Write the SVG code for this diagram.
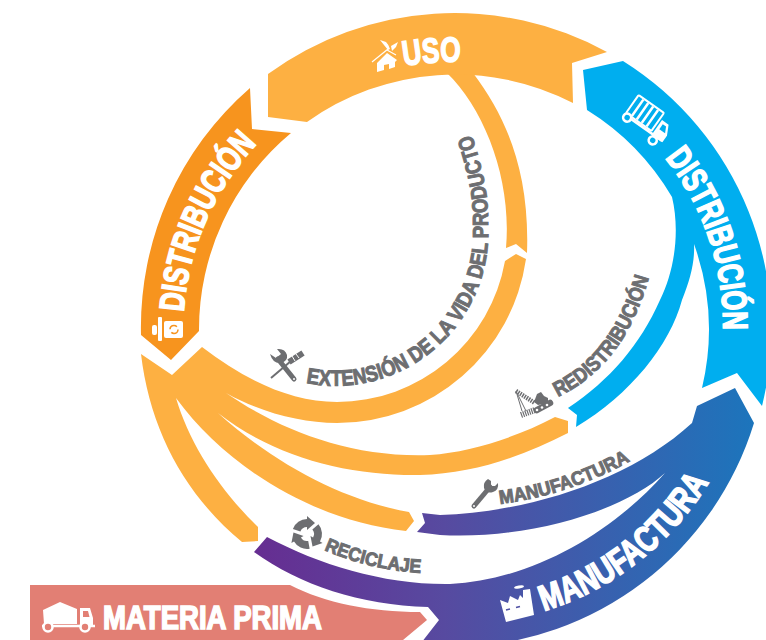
<svg xmlns="http://www.w3.org/2000/svg" width="766" height="640" viewBox="0 0 766 640">
<style>
.w{fill:#fff;font-family:"Liberation Sans",sans-serif;font-weight:700;stroke:#fff;stroke-width:1.6}
.g{fill:#6d6e71;font-family:"Liberation Sans",sans-serif;font-weight:700;stroke:#6d6e71;stroke-width:1}
.o{fill:#fdb042}
.ig{fill:#6d6e71}
.il{fill:none;stroke:#6d6e71}
</style>
<defs>
<linearGradient id="mf" gradientUnits="userSpaceOnUse" x1="254" y1="0" x2="754" y2="0">
<stop offset="0" stop-color="#662d91"/><stop offset=".38" stop-color="#574aa0"/><stop offset="1" stop-color="#1c75bc"/>
</linearGradient>
<path id="t1" d="M183.6,312A272,272 0 0 1 258,143"/>
<path id="t2" d="M404,66A268,268 0 0 1 461,62"/>
<path id="t3" d="M665,158A268,268 0 0 1 723,331"/>
<path id="t4" d="M544,611A295,295 0 0 0 709,482"/>
<path id="t5" d="M306,383A153,153 0 0 0 488,225C489,195 482,165 470,130"/>
<path id="t6" d="M558,397Q630,362 652,265"/>
<path id="t7" d="M500,504Q570,495 632,460"/>
<path id="t8" d="M324,550Q370,570 422,573"/>
<path id="rec" d="M-6.6,-2.4L-14.1,-5.1A15,15 0 0 1 0,-15L0,-18L8,-11L0,-4L0,-7A7,7 0 0 0 -6.6,-2.4Z"/>
</defs>
<g id="connectors">
<path class="o" d="M473,73C505,115 530,170 527,253L516,244L506,248C512,180 485,110 447,73Z"/>
<path class="o" d="M202,347L172,375L141,354C150,430 185,495 242,542L258,541L258,527C220,490 190,445 176,398C225,465 310,520 406,531L414,521L409,512C340,500 270,460 218,413C275,458 350,476 420,475C475,474 525,455 568,433L568,421L555,417C515,438 470,452 430,455C350,458 280,430 226,393C260,412 300,423 337,423A191,191 0 0 0 526,259L516,254L505,261A171,171 0 0 1 337,402C290,402 245,380 202,347Z"/>
</g>
<g id="uso">
<path class="o" d="M268,74A317,317 0 0 1 607,52L572,63L573,103A256,256 0 0 0 307,122L268,117Z"/>
<path fill="#fff" d="M377,63L387,53L397,60L395,62L395,67L389,69L389,64L384,65L384,70L377,72ZM388,50L380,40L386,42Q389,45 390,49ZM392,51L391,46L398,42L396,47Z"/>
<path stroke="#fff" stroke-width="1.2" d="M372,62L388,49M387,50L396,55"/>
<text class="w" font-size="35"><textPath href="#t2" textLength="57" lengthAdjust="spacingAndGlyphs">USO</textPath></text>
</g>
<g id="distribucion-izq">
<path fill="#f7941e" d="M250,88L252,129L291,133A256,256 0 0 0 199,331L171,360L141,335A317,317 0 0 1 250,88Z"/>
<rect x="164" y="321" width="19" height="17" rx="2" fill="#fff"/>
<rect x="158" y="317" width="4" height="24" rx="1" fill="#fff"/>
<rect x="152" y="325" width="5" height="10" rx="2" fill="#fff"/>
<circle cx="174" cy="329.500" r="4" fill="none" stroke="#f7941e" stroke-width="1.6" stroke-dasharray="9 3.500"/>
<text class="w" font-size="35"><textPath href="#t1" textLength="187" lengthAdjust="spacingAndGlyphs">DISTRIBUCIÓN</textPath></text>
</g>
<g id="distribucion-der">
<path fill="#00aeef" d="M623,61L583,70L587,110A254,254 0 0 1 672,197C680,230 675,270 660,300C640,345 610,380 568,408L577,415L576,427C630,395 670,345 682,300C690,280 695,262 694,244A254,254 0 0 1 702,388L737,373L762,406A317,317 0 0 0 623,61Z"/>
<g transform="translate(645,113) rotate(35)">
<rect x="-15.500" y="-11" width="31" height="22" rx="1" fill="none" stroke="#fff" stroke-width="2"/>
<path stroke="#fff" stroke-width="2.500" d="M-9,-10V10M-3,-10V10M3,-10V10M9,-10V10"/>
<path fill="#fff" d="M18,-4H26L31,6V14H18Z"/>
<path fill="#00aeef" d="M21,-1H25L28,5H21Z"/>
<path stroke="#fff" stroke-width="2.500" d="M-15,13H30"/>
<circle cx="-12" cy="14" r="4" fill="#00aeef" stroke="#fff" stroke-width="2.600"/>
<circle cx="22" cy="18" r="4" fill="#00aeef" stroke="#fff" stroke-width="2.600"/>
</g>
<text class="w" font-size="35"><textPath href="#t3" textLength="185" lengthAdjust="spacingAndGlyphs">DISTRIBUCIÓN</textPath></text>
</g>
<g id="manufactura">
<path fill="url(#mf)" d="M254,552L267,537C320,565 385,585 450,584C530,580 610,535 665,473C625,510 530,540 440,535L417,532L425,523L422,513L440,515C530,512 630,480 692,423L697,406L735,388L754,423A317,317 0 0 1 460,647L418,647L439,620L428,607C360,605 300,585 254,552Z"/>
<path fill="#fff" d="M500,600L508,603L510,596L518,600L520,595L523,598L523,590L530,589L534,615L506,622Z"/>
<ellipse cx="519" cy="587" rx="5" ry="1.500" fill="#fff" transform="rotate(-10 519 587)"/>
<path stroke="#4f50a3" stroke-width="1.600" d="M506,610L510,609M516,607.500L520,606.500"/>
<text class="w" font-size="36"><textPath href="#t4" textLength="214" lengthAdjust="spacingAndGlyphs">MANUFACTURA</textPath></text>
</g>
<g id="materia-prima">
<path fill="#e27f74" d="M30,585L290,585C325,603 370,612 420,612L427,620L397,645L30,645Z"/>
<path fill="#fff" d="M43,610L60,602L77,609V624H44ZM80,608H90L93,618V625H80Z"/>
<path fill="#e27f74" d="M83,611H88L89.500,617H83Z"/>
<path stroke="#fff" stroke-width="2.500" d="M42,626H95"/>
<circle cx="48" cy="627" r="4.500" fill="#e27f74" stroke="#fff" stroke-width="2.600"/>
<circle cx="85" cy="627" r="4.500" fill="#e27f74" stroke="#fff" stroke-width="2.600"/>
<text class="w" x="103" y="629" font-size="33" textLength="219" lengthAdjust="spacingAndGlyphs">MATERIA PRIMA</text>
</g>
<g id="extension">
<path class="il" stroke-width="5" stroke-linecap="round" d="M278,359L294,379"/>
<path class="ig" d="M270,354L276,358L281,354L277,349Q285,348 287,355Q288,361 281,363Q273,364 270,354Z"/>
<circle cx="294" cy="379" r="1" fill="#fff"/>
<path class="il" stroke-width="2" d="M271,378L291,361"/>
<path class="il" stroke-width="6" d="M289,362L303,353"/>
<path stroke="#fff" stroke-width="1" d="M292,356L295,361M296,354L299,358"/>
<text class="g" font-size="22"><textPath href="#t5" textLength="370" lengthAdjust="spacingAndGlyphs">EXTENSIÓN DE LA VIDA DEL PRODUCTO</textPath></text>
</g>
<g id="redistribucion">
<path class="il" stroke-width="6.500" stroke-linecap="round" d="M537,410L550,403"/>
<circle cx="537" cy="410" r="1.300" fill="#fff"/><circle cx="542" cy="407.500" r="1.300" fill="#fff"/><circle cx="547" cy="405" r="1.300" fill="#fff"/>
<path class="ig" d="M537,394L541,392L544,396L548,398L548,403L538,405L534,402Z"/>
<path class="il" stroke-width="4.500" stroke-dasharray="1.500 1" d="M516,391L535,403"/>
<path class="il" stroke-width="1" d="M516,391L526,411M516,391L522,411"/>
<path class="il" stroke-width="6" stroke-dasharray="1.200 1" d="M521,415L535,410"/>
<text class="g" font-size="21"><textPath href="#t6" textLength="155" lengthAdjust="spacingAndGlyphs">REDISTRIBUCIÓN</textPath></text>
</g>
<g id="manufactura-etiqueta">
<path class="il" stroke-width="5" stroke-linecap="round" d="M474,506L490,487"/>
<path class="ig" d="M488,479L491,481L491,486L495,486L498,483Q499,490 493,492Q486,494 484,488Q483,482 488,479Z"/>
<circle cx="474" cy="506" r="1" fill="#fff"/>
<text class="g" font-size="19"><textPath href="#t7" textLength="138" lengthAdjust="spacingAndGlyphs">MANUFACTURA</textPath></text>
</g>
<g id="reciclaje">
<g class="ig" transform="translate(307,534)">
<use href="#rec"/><use href="#rec" transform="rotate(120)"/><use href="#rec" transform="rotate(240)"/>
</g>
<text class="g" font-size="19"><textPath href="#t8" textLength="100" lengthAdjust="spacingAndGlyphs">RECICLAJE</textPath></text>
</g>
</svg>
